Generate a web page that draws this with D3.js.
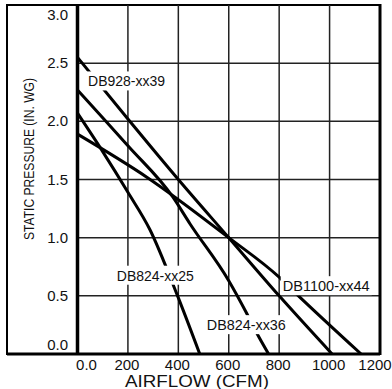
<!DOCTYPE html>
<html lang="en">
<head>
    <meta charset="UTF-8">
    <title>Fan Curves</title>
    <script src="https://cdn.jsdelivr.net/npm/d3@7"></script>
    <style>
        body { margin: 0; background: #fff; }
        text { font-family: "Liberation Sans", Arial, sans-serif; fill: #111; }
        .grid line { stroke: #222; stroke-width: 1.5px; }
        .curve { fill: none; stroke: #000; stroke-width: 3px; }
    </style>
</head>
<body>
    <svg width="392" height="389"></svg>

    <script>
        // axis ticks
        var xTicks = [0, 200, 400, 600, 800, 1000, 1200];
        var xTickLabels = ["0.0", "200", "400", "600", "800", "1000", "1200"];
        var yTicks = [0, 0.5, 1.0, 1.5, 2.0, 2.5, 3.0];

        // fan curves (airflow CFM, static pressure in. WG)
        var names = ["DB928-xx39", "DB824-xx36", "DB824-xx25", "DB1100-xx44"];
        var flow39 = [0, 200, 400, 600, 800, 1010];
        var pres39 = [2.55, 2.02, 1.5, 1.0, 0.5, 0];
        var flow36 = [0, 200, 378, 446, 600, 671, 711, 758];
        var pres36 = [2.27, 1.79, 1.35, 1.12, 0.63, 0.35, 0.18, 0];
        var flow25 = [0, 100, 200, 287, 395, 485];
        var pres25 = [2.07, 1.74, 1.39, 1.07, 0.51, 0];
        var flow44 = [0, 275, 600, 800, 862, 1125];
        var pres44 = [1.89, 1.52, 1.0, 0.66, 0.53, 0];

        // where each label sits, in data units (left edge, baseline), same order as names
        var labelFlow = [42, 513, 156, 814];
        var labelPres = [2.30, 0.205, 0.63, 0.54];
        var labelWidth = [77, 79, 77, 87];

        var svg = d3.select("svg");

        var x = d3.scaleLinear().domain([0, 1200]).range([77.5, 380]);
        var y = d3.scaleLinear().domain([0, 3]).range([354, 5]);

        // outer frame around the whole chart
        svg.append("rect")
            .attr("x", 7).attr("y", 5)
            .attr("width", 380 - 7).attr("height", 354 - 5)
            .attr("fill", "none").attr("stroke", "#000").attr("stroke-width", 2);

        // grid
        var grid = svg.append("g").attr("class", "grid");
        grid.selectAll(".v").data(xTicks.slice(1, -1)).enter().append("line")
            .attr("x1", function(d) { return x(d); })
            .attr("x2", function(d) { return x(d); })
            .attr("y1", y(3)).attr("y2", y(0));
        grid.selectAll(".h").data(yTicks.slice(1, -1)).enter().append("line")
            .attr("x1", x(0)).attr("x2", x(1200))
            .attr("y1", function(d) { return y(d); })
            .attr("y2", function(d) { return y(d); });

        // curves
        var series = [
            d3.zip(flow39, pres39),
            d3.zip(flow36, pres36),
            d3.zip(flow25, pres25),
            d3.zip(flow44, pres44)
        ];
        var line = d3.line()
            .x(function(d) { return x(d[0]); })
            .y(function(d) { return y(d[1]); })
            .curve(d3.curveMonotoneX);

        svg.append("g").selectAll("path").data(series).enter().append("path")
            .attr("class", "curve")
            .attr("d", line);

        // labels with white boxes that cut the lines behind them
        var labels = svg.append("g");
        names.forEach(function(name, i) {
            var g = labels.append("g");
            var t = g.append("text")
                .attr("x", x(labelFlow[i]))
                .attr("y", y(labelPres[i]))
                .attr("font-size", 15)
                .attr("textLength", labelWidth[i])
                .attr("lengthAdjust", "spacingAndGlyphs")
                .text(name);
            var b = t.node().getBBox();
            g.insert("rect", "text")
                .attr("x", b.x - 2).attr("y", b.y - 1)
                .attr("width", b.width + 4).attr("height", b.height + 2)
                .attr("fill", "#fff");
        });

        // plot border: thick left axis, bottom and right
        svg.append("line")
            .attr("x1", x(0)).attr("x2", x(0)).attr("y1", y(3)).attr("y2", y(0) + 1)
            .attr("stroke", "#000").attr("stroke-width", 3.5);
        svg.append("line")
            .attr("x1", 7).attr("x2", x(1200)).attr("y1", y(0)).attr("y2", y(0))
            .attr("stroke", "#000").attr("stroke-width", 3);
        svg.append("line")
            .attr("x1", x(1200)).attr("x2", x(1200)).attr("y1", y(3) - 1).attr("y2", y(0) + 1)
            .attr("stroke", "#000").attr("stroke-width", 3);

        // y tick labels
        svg.append("g").selectAll("text").data(yTicks).enter().append("text")
            .attr("x", 68)
            .attr("y", function(d) { return Math.min(Math.max(y(d), 15), 345) + 5; })
            .attr("text-anchor", "end")
            .attr("font-size", 15)
            .text(function(d) { return d3.format(".1f")(d); });

        // x tick labels (first nudged off the axis, last kept inside the window)
        svg.append("g").selectAll("text").data(xTicks).enter().append("text")
            .attr("x", function(d) {
                if (d === 0) return x(d) + 9;
                if (d === 1200) return x(d) - 5;
                return x(d) - 1;
            })
            .attr("y", 370)
            .attr("text-anchor", "middle")
            .attr("font-size", 15)
            .text(function(d, i) { return xTickLabels[i]; });

        // axis titles
        svg.append("text")
            .attr("x", 197).attr("y", 387)
            .attr("text-anchor", "middle")
            .attr("font-size", 16.5)
            .attr("textLength", 144)
            .attr("lengthAdjust", "spacingAndGlyphs")
            .text("AIRFLOW (CFM)");

        svg.append("text")
            .attr("transform", "translate(34,159) rotate(-90)")
            .attr("text-anchor", "middle")
            .attr("font-size", 15)
            .attr("textLength", 162)
            .attr("lengthAdjust", "spacingAndGlyphs")
            .text("STATIC PRESSURE (IN. WG)");
    </script>
</body>
</html>
